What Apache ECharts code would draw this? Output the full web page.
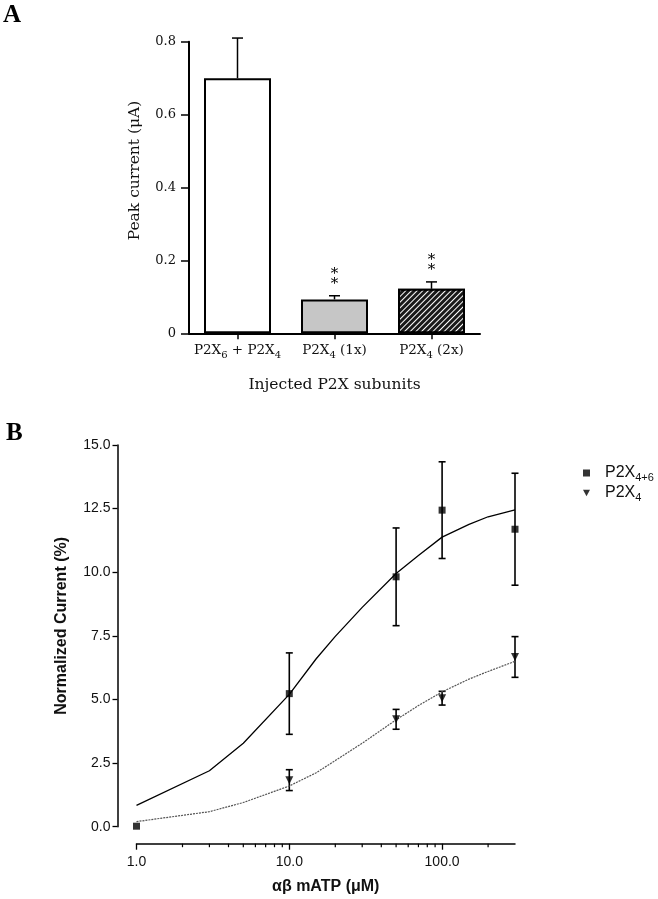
<!DOCTYPE html>
<html><head><meta charset="utf-8">
<script src="https://cdn.jsdelivr.net/npm/echarts@6/dist/echarts.min.js"></script>
<style>html,body{margin:0;padding:0;background:#fff}#c{width:658px;height:899px}</style>
</head><body><div id="c"></div>
<script>
// ---------- Panel A data ----------
const categoriesA = ['P2X6 + P2X4', 'P2X4 (1x)', 'P2X4 (2x)'];
const peakCurrent = [0.70, 0.093, 0.122];
const peakCurrentErr = [0.11, 0.010, 0.019];
const significanceStars = [0, 2, 2];

// ---------- Panel B data ----------
const concentration46 = [1, 10, 50, 100, 300];
const current46 = [0.02, 5.23, 9.82, 12.44, 11.69];
const current46Err = [0, 1.60, 1.92, 1.90, 2.20];
const concentration4 = [10, 50, 100, 300];
const current4 = [1.83, 4.22, 5.05, 6.67];
const current4Err = [0.41, 0.39, 0.27, 0.80];
const fitConc = [1, 3, 5, 10, 15, 20, 30, 50, 70, 100, 150, 200, 300];
const fit46 = [0.84, 2.20, 3.28, 5.20, 6.60, 7.48, 8.62, 9.95, 10.66, 11.38, 11.88, 12.18, 12.45];
const fit4 = [0.20, 0.59, 0.95, 1.60, 2.12, 2.60, 3.28, 4.20, 4.76, 5.30, 5.80, 6.10, 6.50];
const minorTicksB = [2, 3, 4, 5, 6, 7, 8, 9, 20, 30, 40, 50, 60, 70, 80, 90, 200];

const SERIF = 'DejaVu Serif';
const SANS = 'Liberation Sans';

const barStyles = [
  { color: '#ffffff', borderColor: '#000', borderWidth: 2 },
  { color: '#c6c6c6', borderColor: '#000', borderWidth: 2 },
  { color: '#1a1a1a', borderColor: '#000', borderWidth: 2,
    decal: { symbol: 'rect', symbolSize: 1, color: '#ffffff', dashArrayX: [1, 0], dashArrayY: [1, 2.2], rotation: -Math.PI / 4 } }
];

function errRenderA(params, api) {
  const i = api.value(0), m = api.value(1), e = api.value(2), n = api.value(3);
  const base = api.coord([i, m]);
  const top = api.coord([i, m + e]);
  const w = 5.5;
  const st = { stroke: '#000', lineWidth: 1.5 };
  const children = [
    { type: 'line', shape: { x1: base[0], y1: base[1], x2: top[0], y2: top[1] }, style: st },
    { type: 'line', shape: { x1: top[0] - w, y1: top[1], x2: top[0] + w, y2: top[1] }, style: st }
  ];
  for (let k = 0; k < n; k++) {
    children.push({ type: 'text', style: { text: '*', x: top[0], y: top[1] - 12 - k * 10,
      align: 'center', verticalAlign: 'middle', font: '15px "' + SERIF + '"', fill: '#000' } });
  }
  return { type: 'group', children };
}

function errRenderB(params, api) {
  const x = api.value(0), y = api.value(1), e = api.value(2);
  if (!e) return null;
  const top = api.coord([x, y + e]);
  const bot = api.coord([x, y - e]);
  const w = 3.5;
  const st = { stroke: '#000', lineWidth: 1.6 };
  return { type: 'group', children: [
    { type: 'line', shape: { x1: top[0], y1: top[1], x2: bot[0], y2: bot[1] }, style: st },
    { type: 'line', shape: { x1: top[0] - w, y1: top[1], x2: top[0] + w, y2: top[1] }, style: st },
    { type: 'line', shape: { x1: bot[0] - w, y1: bot[1], x2: bot[0] + w, y2: bot[1] }, style: st }
  ] };
}

const X_OFFSET_B = 17;
function minorTickRender(params, api) {
  const p = api.coord([api.value(0), 0]);
  const y0 = p[1] + X_OFFSET_B;
  return { type: 'line', shape: { x1: p[0], y1: y0, x2: p[0], y2: y0 + 3.5 }, style: { stroke: '#000', lineWidth: 1.2 } };
}

const chart = echarts.init(document.getElementById('c'), null, { renderer: 'canvas' });
chart.setOption({
  animation: false,
  backgroundColor: '#fff',
  graphic: [
    { type: 'text', left: 3, top: 3, style: { text: 'A', font: 'bold 25px "Liberation Serif"', fill: '#000' } },
    { type: 'text', left: 6, top: 421, style: { text: 'B', font: 'bold 25px "Liberation Serif"', fill: '#000' } }
  ],
  grid: [
    { left: 189, top: 41.7, width: 291, height: 291.6 },
    { left: 136.5, top: 445, width: 378.5, height: 381.7 }
  ],
  legend: {
    data: [
      { name: 'P2X4+6', icon: 'rect' },
      { name: 'P2X4', icon: 'path://M0,0L10,0L5,9Z' }
    ],
    orient: 'vertical', left: 578, top: 460, itemWidth: 7, itemHeight: 7, itemGap: 2,
    itemStyle: { color: '#000' },
    formatter: n => n.replace(/^P2X(.+)$/, 'P2X{s|$1}'),
    textStyle: { fontFamily: SANS, fontSize: 16, color: '#111', padding: [0, 0, 0, 10],
      rich: { s: { fontFamily: SANS, fontSize: 11, color: '#111', padding: [9, 0, 0, 0] } } }
  },
  xAxis: [
    { gridIndex: 0, type: 'category', data: categoriesA,
      axisLine: { show: true, lineStyle: { color: '#000', width: 2 } },
      axisTick: { show: true, alignWithLabel: true, length: 6, lineStyle: { color: '#000', width: 1.5 } },
      axisLabel: { interval: 0, color: '#111', fontFamily: SERIF, fontSize: 13.5, margin: 8, hideOverlap: false,
        formatter: v => v.replace(/X(\d)/g, 'X{s|$1}'),
        rich: { s: { fontFamily: SERIF, fontSize: 10, color: '#111', padding: [9, 0, 0, 0] } } },
      splitLine: { show: false },
      name: 'Injected P2X subunits', nameLocation: 'middle', nameGap: 44,
      nameTextStyle: { fontFamily: SERIF, fontSize: 15.5, color: '#111' } },
    { gridIndex: 1, type: 'log', logBase: 10, min: 1, max: 300, offset: X_OFFSET_B,
      axisLine: { show: true, onZero: false, lineStyle: { color: '#000', width: 1.5 } },
      axisTick: { show: true, length: 6, lineStyle: { color: '#000', width: 1.3 } },
      axisLabel: { color: '#111', fontFamily: SANS, fontSize: 14, margin: 11, showMaxLabel: false,
        formatter: v => Number(v).toFixed(1) },
      splitLine: { show: false }, minorTick: { show: false },
      name: 'αβ mATP (μM)', nameLocation: 'middle', nameGap: 35,
      nameTextStyle: { fontFamily: SANS, fontSize: 16, fontWeight: 'bold', color: '#111' } }
  ],
  yAxis: [
    { gridIndex: 0, type: 'value', min: 0, max: 0.8, interval: 0.2,
      axisLine: { show: true, lineStyle: { color: '#000', width: 2 } },
      axisTick: { show: true, length: 8, lineStyle: { color: '#000', width: 1.5 } },
      axisLabel: { color: '#111', fontFamily: SERIF, fontSize: 13, margin: 13,
        formatter: v => v === 0 ? '0' : v.toFixed(1) },
      splitLine: { show: false },
      name: 'Peak current (μA)', nameLocation: 'middle', nameRotate: 90, nameGap: 46,
      nameTextStyle: { fontFamily: SERIF, fontSize: 15.5, color: '#111', padding: [0, 0, 0, 34] } },
    { gridIndex: 1, type: 'value', min: 0, max: 15, interval: 2.5, offset: 19,
      axisLine: { show: true, onZero: false, lineStyle: { color: '#000', width: 1.5 } },
      axisTick: { show: true, length: 5, lineStyle: { color: '#000', width: 1.3 } },
      axisLabel: { color: '#111', fontFamily: SANS, fontSize: 14, margin: 7,
        formatter: v => v.toFixed(1) },
      splitLine: { show: false },
      name: 'Normalized Current (%)', nameLocation: 'middle', nameRotate: 90, nameGap: 48,
      nameTextStyle: { fontFamily: SANS, fontSize: 16, fontWeight: 'bold', color: '#111', padding: [0, 0, 0, 20] } }
  ],
  series: [
    { type: 'bar', xAxisIndex: 0, yAxisIndex: 0, barWidth: 67, silent: true,
      data: peakCurrent.map((v, i) => ({ value: v, itemStyle: barStyles[i] })) },
    { type: 'custom', xAxisIndex: 0, yAxisIndex: 0, renderItem: errRenderA, silent: true, z: 5,
      data: peakCurrent.map((v, i) => [i, v, peakCurrentErr[i], significanceStars[i]]) },

    { name: 'fit46', type: 'line', xAxisIndex: 1, yAxisIndex: 1, showSymbol: false, silent: true,
      lineStyle: { color: '#000', width: 1.3 }, data: fitConc.map((x, i) => [x, fit46[i]]) },
    { name: 'fit4', type: 'line', xAxisIndex: 1, yAxisIndex: 1, showSymbol: false, silent: true,
      lineStyle: { color: '#555', width: 1.2, type: [2, 1] }, data: fitConc.map((x, i) => [x, fit4[i]]) },
    { type: 'custom', xAxisIndex: 1, yAxisIndex: 1, renderItem: errRenderB, silent: true,
      data: concentration46.map((x, i) => [x, current46[i], current46Err[i]]) },
    { type: 'custom', xAxisIndex: 1, yAxisIndex: 1, renderItem: errRenderB, silent: true,
      data: concentration4.map((x, i) => [x, current4[i], current4Err[i]]) },
    { name: 'P2X4+6', type: 'scatter', xAxisIndex: 1, yAxisIndex: 1, symbol: 'rect', symbolSize: 7,
      itemStyle: { color: '#000' }, z: 6, data: concentration46.map((x, i) => [x, current46[i]]) },
    { name: 'P2X4', type: 'scatter', xAxisIndex: 1, yAxisIndex: 1, symbol: 'triangle', symbolRotate: 180, symbolSize: [8, 8],
      itemStyle: { color: '#000' }, z: 6, data: concentration4.map((x, i) => [x, current4[i]]) },
    { type: 'custom', xAxisIndex: 1, yAxisIndex: 1, renderItem: minorTickRender, silent: true, clip: false,
      data: minorTicksB.map(v => [v, 0]) }
  ]
});
</script></body></html>
